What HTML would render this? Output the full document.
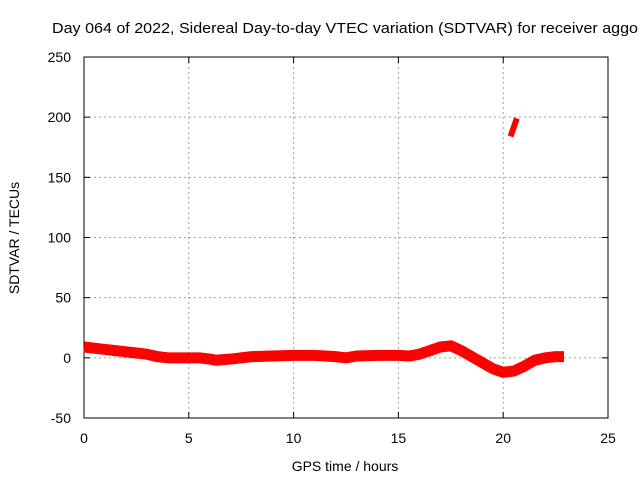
<!DOCTYPE html>
<html><head><meta charset="utf-8"><style>
body{margin:0;background:#fff;}
svg{display:block;font-family:"Liberation Sans",sans-serif;font-size:14px;}
</style></head><body>
<svg id="chart" width="640" height="480" viewBox="0 0 640 480">
<text x="52" y="33" font-size="15" textLength="586" lengthAdjust="spacingAndGlyphs">Day 064 of 2022, Sidereal Day-to-day VTEC variation (SDTVAR) for receiver aggo</text>
<g id="grid"></g>
<g id="axes"></g>
<g id="series"></g>
<text x="345" y="471" text-anchor="middle">GPS time / hours</text>
<text transform="translate(19,238) rotate(-90)" text-anchor="middle">SDTVAR / TECUs</text>
</svg>
<script>
const xTicks=[0,5,10,15,20,25];
const yTicks=[-50,0,50,100,150,200,250];
const hours=[0,0.5,1,1.5,2,2.5,3,3.5,4,4.5,5,5.5,6,6.3,7,8,9,10,11,12,12.5,13,14,15,15.5,16,16.5,17,17.5,18,18.5,19,19.5,20,20.5,21,21.5,22,22.5,22.9];
const values=[9,8,7,6,5,4,3,1,0,0,0,0,-1,-2,-1,1,1.5,2,2,1,0,1.5,2,2,1.5,3,6,9,10,6,1,-4,-9,-12,-11,-7,-2,0,1,1];
const outHours=[20.35,20.65];
const outValues=[184,199];
const NS="http://www.w3.org/2000/svg";
const L=84,R=608,T=57,B=418;
const xs=h=>L+(h-0)/25*(R-L);
const ys=v=>B-(v+50)/300*(B-T);
function mk(tag,attrs,parent){const e=document.createElementNS(NS,tag);for(const k in attrs)e.setAttribute(k,attrs[k]);parent.appendChild(e);return e;}
const grid=document.getElementById('grid'),axes=document.getElementById('axes'),series=document.getElementById('series');
xTicks.forEach(t=>{
 if(t>0&&t<25){const g=mk('line',{x1:xs(t),x2:xs(t),y1:T,y2:B,stroke:'#a0a0a0','stroke-dasharray':'2,3'},grid);
 
 }
 const tx=mk('text',{x:xs(t),y:B+25,'text-anchor':'middle'},axes);tx.textContent=t;
 
 
 mk('line',{x1:xs(t),x2:xs(t),y1:B,y2:B-6,stroke:'#000'},axes);
 mk('line',{x1:xs(t),x2:xs(t),y1:T,y2:T+6,stroke:'#000'},axes);
});
yTicks.forEach(t=>{
 if(t>-50&&t<250){const g=mk('line',{x1:L,x2:R,y1:ys(t),y2:ys(t),stroke:'#a0a0a0','stroke-dasharray':'2,3'},grid);
 
 }
 const tx=mk('text',{x:L-13,y:ys(t)+5,'text-anchor':'end'},axes);tx.textContent=t;
 
 
 mk('line',{x1:L,x2:L+6,y1:ys(t),y2:ys(t),stroke:'#000'},axes);
 mk('line',{x1:R,x2:R-6,y1:ys(t),y2:ys(t),stroke:'#000'},axes);
});
const frame=mk('rect',{x:L,y:T,width:R-L,height:B-T,fill:'none',stroke:'#000'},axes);


const p=mk('polyline',{points:hours.map((h,i)=>xs(h)+','+ys(values[i])).join(' '),fill:'none',stroke:'#ff0000','stroke-width':11,'stroke-linejoin':'round'},series);


const o=mk('polyline',{points:outHours.map((h,i)=>xs(h)+','+ys(outValues[i])).join(' '),fill:'none',stroke:'#ff0000','stroke-width':6},series);


</script>
</body></html>
